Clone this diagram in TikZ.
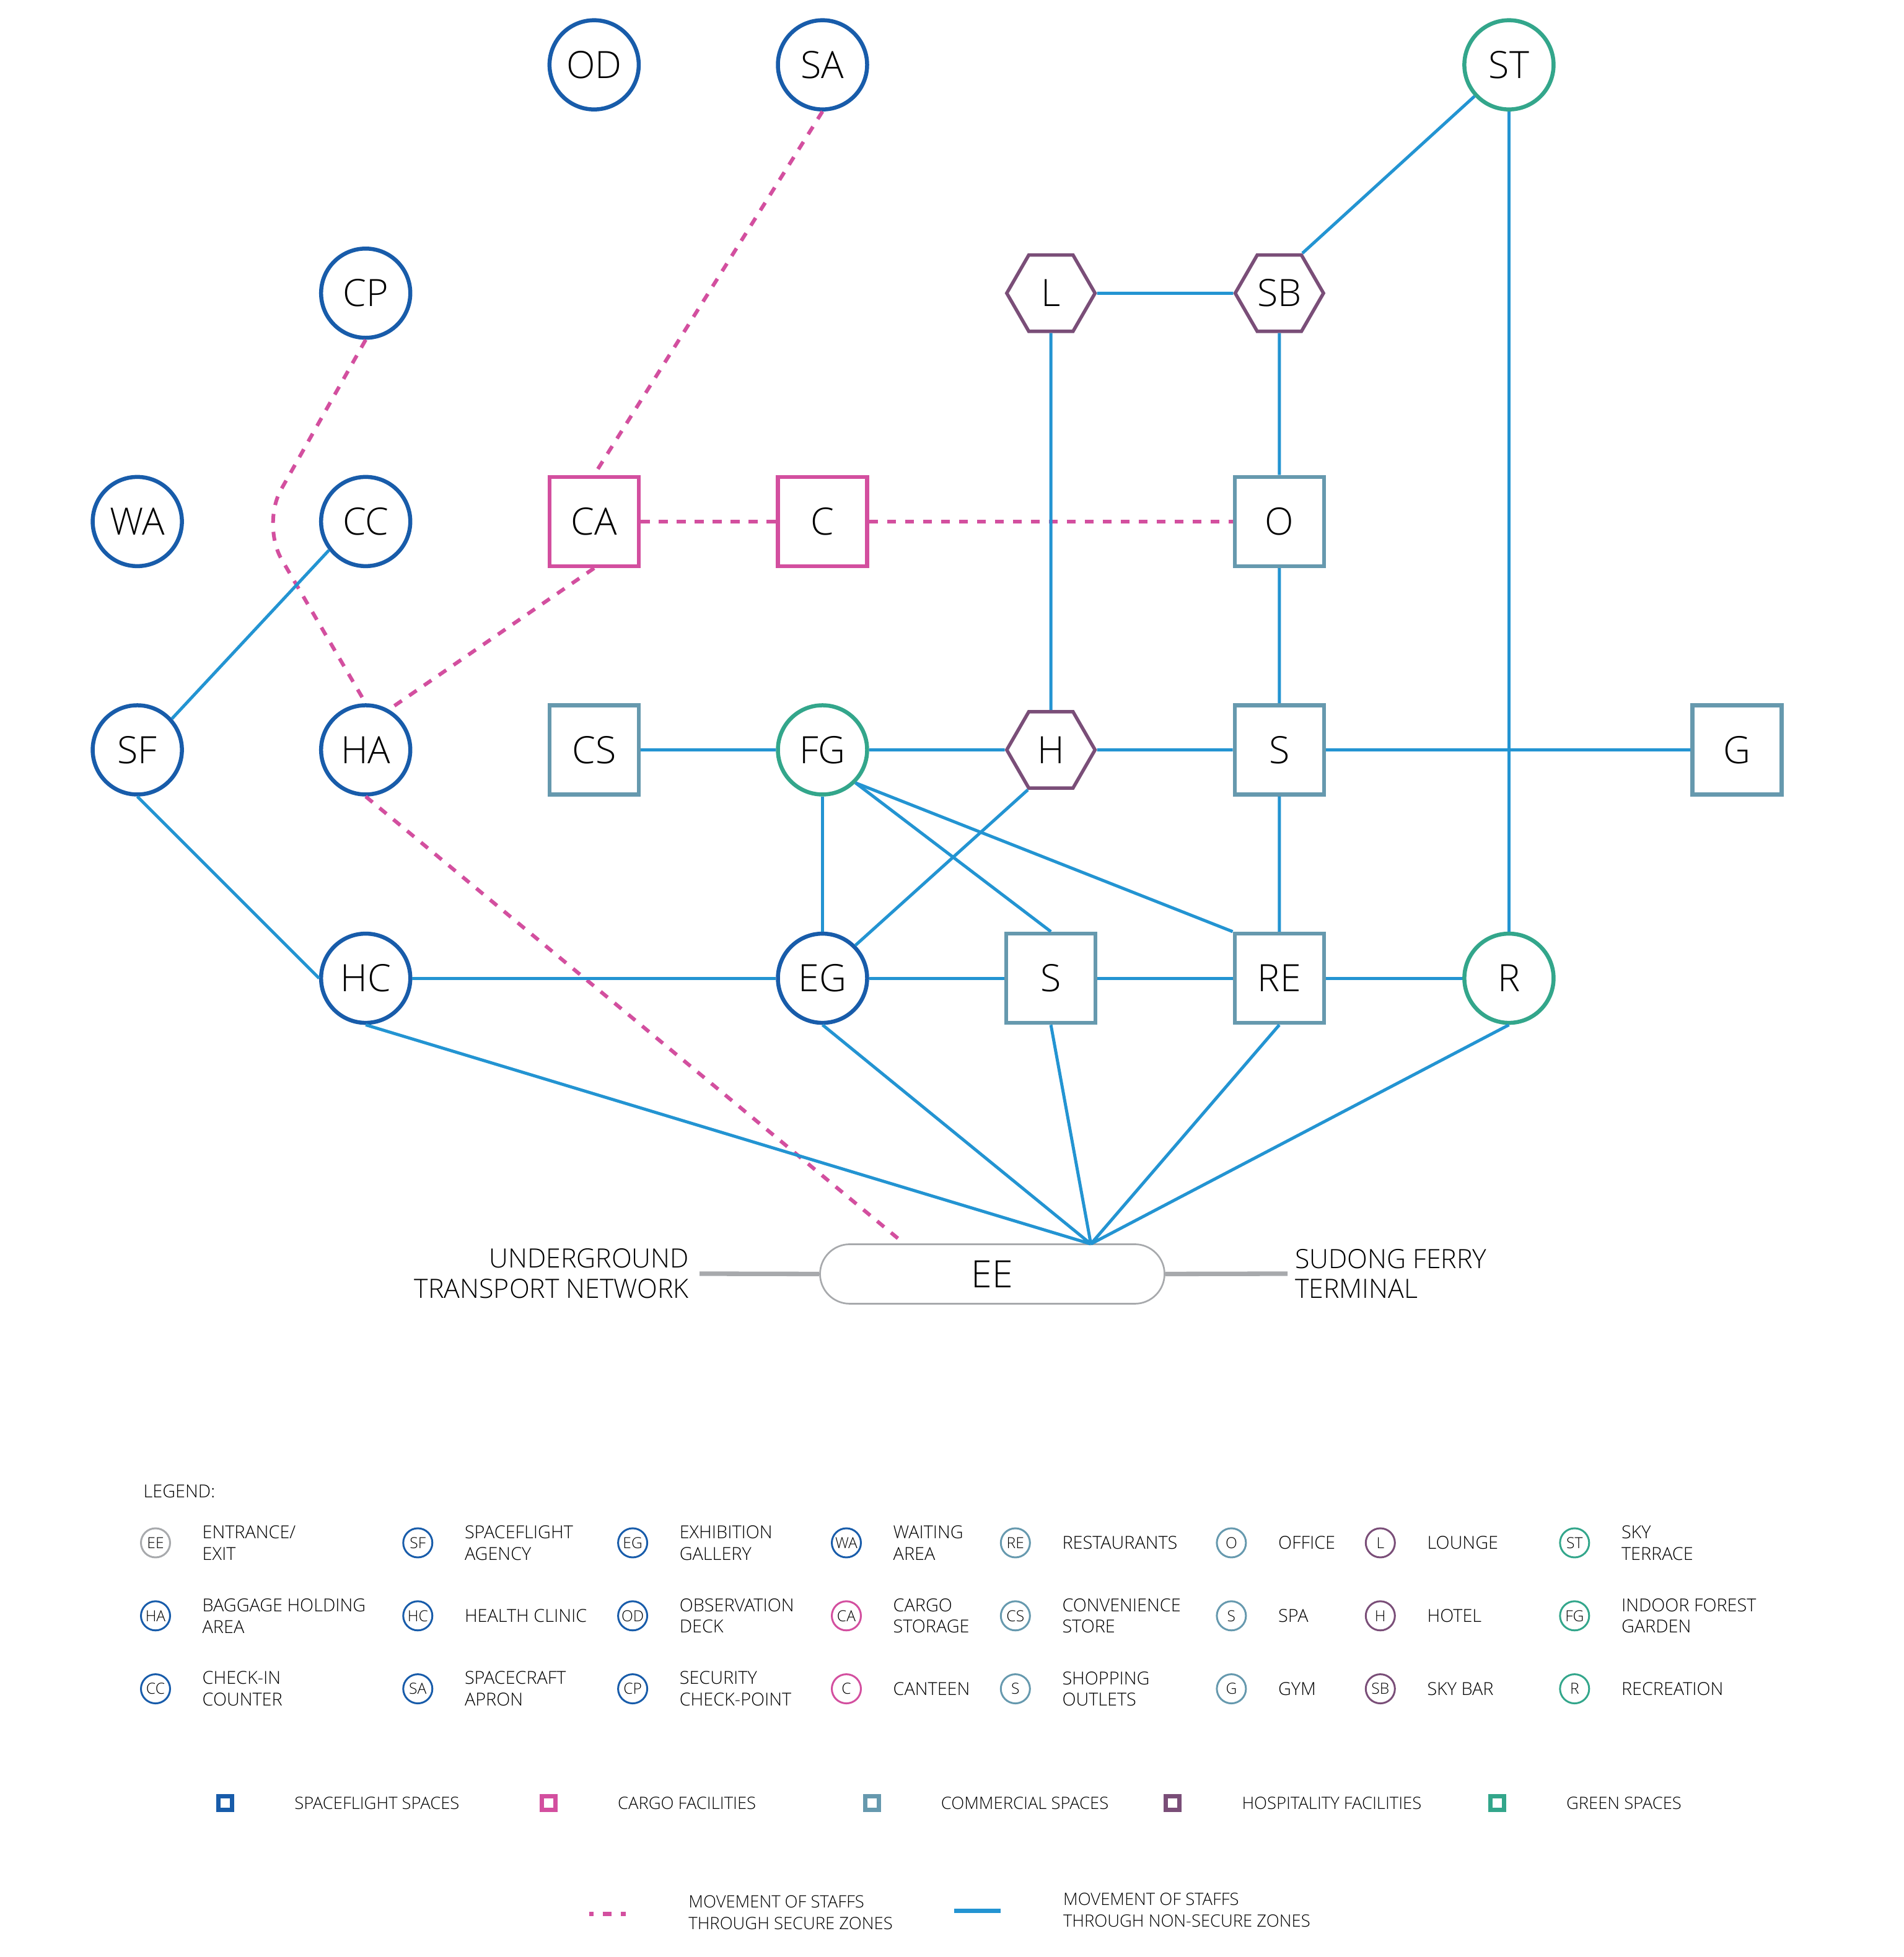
\documentclass[tikz,border=0pt]{standalone}
\usepackage{fontspec}
\IfFontExistsTF{Open Sans Light}{\setmainfont{Open Sans Light}}{\setmainfont{Open Sans}}
\usepackage{tikz}
\usetikzlibrary{shapes.geometric, calc}
\usepackage{xcolor}

\definecolor{flight}{RGB}{24,92,170}
\definecolor{cargo}{RGB}{211,79,159}
\definecolor{commerce}{RGB}{102,153,174}
\definecolor{hospit}{RGB}{122,78,120}
\definecolor{greenery}{RGB}{51,166,139}
\definecolor{route}{RGB}{35,148,210}
\definecolor{exitgrey}{RGB}{167,169,172}

\begin{document}
\begin{tikzpicture}[x=1.0mm, y=1.0mm,
	roomfont/.style={font=\fontsize{17.3}{20}\selectfont},
	spot/.style={circle, draw=#1, line width=0.65mm, minimum size=14.4mm, inner sep=0pt, fill=white, roomfont},
	roombox/.style={rectangle, draw=#1, line width=0.65mm, minimum size=14.4mm, inner sep=0pt, fill=white, roomfont},
	hexa/.style={regular polygon, regular polygon sides=6, draw=#1, line width=0.55mm, minimum size=14.25mm, inner sep=0pt, fill=white, roomfont},
	nonsecure/.style={draw=route, line width=0.5mm},
	secure/.style={draw=cargo, line width=0.6mm, dash pattern=on 1.45mm off 1.45mm},
	ring/.style={circle, draw=#1, line width=0.3mm, minimum size=4.7mm, inner sep=0pt, font=\fontsize{7}{7}\selectfont},
	keytext/.style={anchor=west, align=left, inner sep=0pt, font=\fontsize{8.2}{9.9}\selectfont},
	smallkey/.style={keytext, font=\fontsize{7.8}{9.9}\selectfont}]

	\useasboundingbox (0,0) rectangle (307.2,315.9);

	% rooms
	\node[spot=flight] (OD) at (95.89,305.43) {OD};
	\node[spot=flight] (SA) at (132.75,305.43) {SA};
	\node[spot=greenery] (ST) at (243.54,305.43) {ST};
	\node[spot=flight] (CP) at (59.02,268.57) {CP};
	\node[hexa=hospit] (L) at (169.61,268.57) {L};
	\node[hexa=hospit] (SB) at (206.48,268.57) {SB};
	\node[spot=flight] (WA) at (22.16,231.71) {WA};
	\node[spot=flight] (CC) at (59.02,231.71) {CC};
	\node[roombox=cargo] (CA) at (95.89,231.71) {CA};
	\node[roombox=cargo] (C) at (132.75,231.71) {C};
	\node[roombox=commerce] (O) at (206.48,231.71) {O};
	\node[spot=flight] (SF) at (22.16,194.85) {SF};
	\node[spot=flight] (HA) at (59.02,194.85) {HA};
	\node[roombox=commerce] (CS) at (95.89,194.85) {CS};
	\node[spot=greenery] (FG) at (132.75,194.85) {FG};
	\node[hexa=hospit] (H) at (169.61,194.85) {H};
	\node[roombox=commerce] (SP) at (206.48,194.85) {S};
	\node[roombox=commerce] (G) at (280.35,194.85) {G};
	\node[spot=flight] (HC) at (59.02,157.99) {HC};
	\node[spot=flight] (EG) at (132.75,157.99) {EG};
	\node[roombox=commerce] (SO) at (169.61,157.99) {S};
	\node[roombox=commerce] (RE) at (206.48,157.99) {RE};
	\node[spot=greenery] (R) at (243.54,157.99) {R};

	\node[draw=exitgrey, line width=0.27mm, rounded corners=4.8mm, minimum width=55.6mm, minimum height=9.6mm, fill=white, roomfont] (EE) at (160.15,110.25) {EE};

	\coordinate (EEhub) at (176.06,115.1);
	\coordinate (EEdash) at (146.0,115.1);
	\coordinate (UGT) at (112.9,110.3);
	\coordinate (SFT) at (207.8,110.3);
	\coordinate (bendK) at (42.17,231.22);

	% secure zones
	\draw[secure] (SA.south) -- (CA.north);
	\draw[secure] (CA.east) -- (C.west) (C.east) -- (O.west);
	\draw[secure] (CA.south) -- (HA.60);
	\draw[secure, rounded corners=6.5mm] (CP.south) -- (bendK) -- (HA.north);
	\draw[secure] (HA.south) -- (EEdash);

	% non-secure zones
	\draw[nonsecure] (SB.60) -- (ST);
	\draw[nonsecure] (ST) -- (R);
	\draw[nonsecure] (L) -- (SB);
	\draw[nonsecure] (L) -- (H);
	\draw[nonsecure] (SB) -- (O) (O) -- (SP) (SP) -- (RE);
	\draw[nonsecure] (CS) -- (FG) (FG) -- (H) (H) -- (SP) (SP) -- (G);
	\draw[nonsecure] (FG) -- (EG);
	\draw[nonsecure] (FG.south east) -- (SO.north);
	\draw[nonsecure] (FG.south east) -- (RE.north west);
	\draw[nonsecure] (H.240) -- (EG.north east);
	\draw[nonsecure] (HC) -- (EG) (EG) -- (SO) (SO) -- (RE) (RE) -- (R);
	\draw[nonsecure] (SF.42) -- (CC.218);
	\draw[nonsecure] (SF.south) -- (HC.west);
	\draw[nonsecure] (HC.south) -- (EEhub) (EG.south) -- (EEhub) (SO.south) -- (EEhub) (RE.south) -- (EEhub) (R.south) -- (EEhub);

	\draw[exitgrey, line width=0.73mm] (UGT) -- (EE.west) (EE.east) -- (SFT);
	\node[anchor=east, align=right, inner sep=0pt, font=\fontsize{12.2}{13.9}\selectfont] (UGTtext) at (111.26,110.3) {UNDERGROUND\\TRANSPORT NETWORK};
	\node[anchor=west, align=left, inner sep=0pt, font=\fontsize{12.2}{13.9}\selectfont] (SFTtext) at (208.95,110.3) {SUDONG FERRY\\TERMINAL};

	% legend
	\node[keytext] (legend) at (23.1,75.2) {LEGEND:};
	\foreach \cx/\cy/\col/\tag/\name [count=\n] in {
		25.1/66.85/exitgrey/EE/{ENTRANCE/\\EXIT},
		25.1/55.07/flight/HA/{BAGGAGE HOLDING\\AREA},
		25.1/43.29/flight/CC/{CHECK-IN\\COUNTER},
		67.43/66.85/flight/SF/{SPACEFLIGHT\\AGENCY},
		67.43/55.07/flight/HC/{HEALTH CLINIC},
		67.43/43.29/flight/SA/{SPACECRAFT\\APRON},
		102.11/66.85/flight/EG/{EXHIBITION\\GALLERY},
		102.11/55.07/flight/OD/{OBSERVATION\\DECK},
		102.11/43.29/flight/CP/{SECURITY\\CHECK-POINT},
		136.6/66.85/flight/WA/{WAITING\\AREA},
		136.6/55.07/cargo/CA/{CARGO\\STORAGE},
		136.6/43.29/cargo/C/{CANTEEN},
		163.88/66.85/commerce/RE/{RESTAURANTS},
		163.88/55.07/commerce/CS/{CONVENIENCE\\STORE},
		163.88/43.29/commerce/S/{SHOPPING\\OUTLETS},
		198.74/66.85/commerce/O/{OFFICE},
		198.74/55.07/commerce/S/{SPA},
		198.74/43.29/commerce/G/{GYM},
		222.78/66.85/hospit/L/{LOUNGE},
		222.78/55.07/hospit/H/{HOTEL},
		222.78/43.29/hospit/SB/{SKY BAR},
		254.13/66.85/greenery/ST/{SKY\\TERRACE},
		254.13/55.07/greenery/FG/{INDOOR FOREST\\GARDEN},
		254.13/43.29/greenery/R/{RECREATION}}
	{
		\node[ring=\col] (key\n) at (\cx,\cy) {\tag};
		\node[keytext] (keytext\n) at (\cx+7.5,\cy) {\name};
	}

	\foreach \mx/\col/\name [count=\n] in {36.36/flight/SPACEFLIGHT SPACES, 88.54/cargo/CARGO FACILITIES, 140.72/commerce/COMMERCIAL SPACES, 189.28/hospit/HOSPITALITY FACILITIES, 241.63/greenery/GREEN SPACES}
	{
		\node[draw=\col, line width=0.7mm, minimum size=2.23mm, inner sep=0pt] (swatch\n) at (\mx,24.83) {};
		\node[smallkey] (swatchtext\n) at (\mx+11.1,24.83) {\name};
	}

	\coordinate (dashA) at (95.1,6.93);
	\coordinate (dashB) at (101.0,6.93);
	\coordinate (solidA) at (154.0,7.47);
	\coordinate (solidB) at (161.5,7.47);
	\draw[secure, line width=0.73mm, dash phase=0.72mm] (dashA) -- (dashB);
	\draw[nonsecure, line width=0.73mm] (solidA) -- (solidB);
	\node[smallkey] (securetext) at (111.07,7.2) {MOVEMENT OF STAFFS\\THROUGH SECURE ZONES};
	\node[smallkey] (opentext) at (171.54,7.6) {MOVEMENT OF STAFFS\\THROUGH NON-SECURE ZONES};

\end{tikzpicture}
\end{document}
